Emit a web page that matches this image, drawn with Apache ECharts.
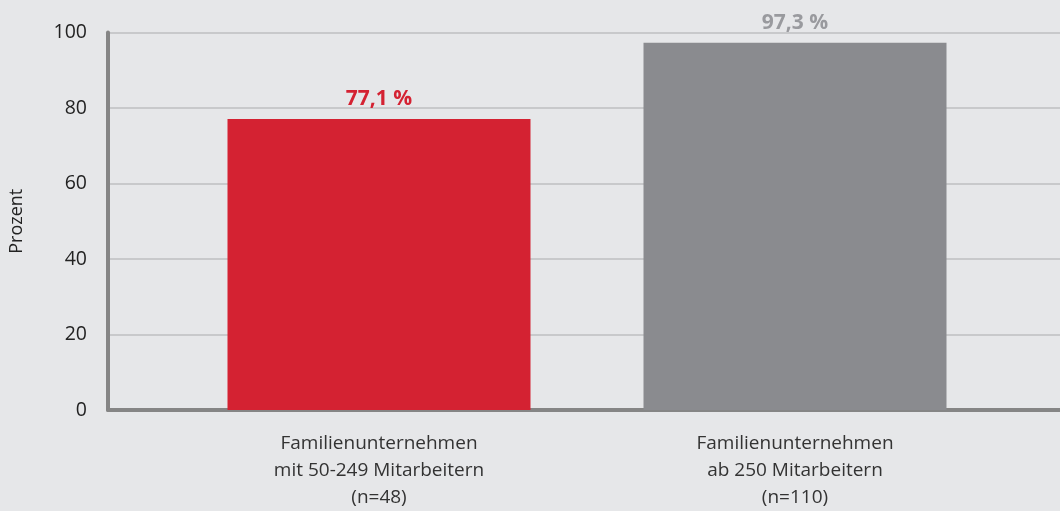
<!DOCTYPE html>
<html>
<head>
<meta charset="utf-8">
<script src="https://cdn.jsdelivr.net/npm/echarts@6/dist/echarts.min.js"></script>
<style>
html,body{margin:0;padding:0;background:#e6e7e9;}
#c{width:1060px;height:511px;}
</style>
</head>
<body>
<div id="c"></div>
<script>
const categories = ['Familienunternehmen\nmit 50-249 Mitarbeitern\n(n=48)', 'Familienunternehmen\nab 250 Mitarbeitern\n(n=110)'];
const values = [77.1, 97.3];
const barColors = ['#d42232', '#8a8b8f'];
const labelColors = ['#d42232', '#999a9e'];
const yTicks = [0, 20, 40, 60, 80, 100];

const FONT = '"Open Sans", "Noto Sans", sans-serif';
const chart = echarts.init(document.getElementById('c'), null, {renderer: 'canvas'});
chart.setOption({
  backgroundColor: '#e6e7e9',
  animation: false,
  grid: [
    {left: 106, right: 0, top: 32.5, bottom: 101},
    {left: 171, right: 57, top: 32.5, bottom: 101}
  ],
  xAxis: [
    {gridIndex: 0, type: 'value', min: 0, max: 1, axisLine: {show: true, onZero: false, lineStyle: {color: '#858585', width: 4}},
     axisTick: {show: false}, axisLabel: {show: false}, splitLine: {show: false}},
    {gridIndex: 1, type: 'category', data: categories, axisLine: {show: false}, axisTick: {show: false},
     axisLabel: {fontFamily: FONT, fontSize: 19, lineHeight: 27, color: '#333', margin: 20}}
  ],
  yAxis: [
    {gridIndex: 0, type: 'value', min: yTicks[0], max: yTicks[yTicks.length - 1], interval: 20,
     axisLine: {show: true, lineStyle: {color: '#858585', width: 4}}, axisTick: {show: false},
     axisLabel: {fontFamily: FONT, fontSize: 19.5, color: '#222', margin: 21},
     splitLine: {lineStyle: {color: '#c8c9cb', width: 2}},
     name: 'Prozent', nameLocation: 'middle', nameRotate: 90, nameGap: 82,
     nameTextStyle: {fontFamily: FONT, fontSize: 18, color: '#222'}},
    {gridIndex: 1, type: 'value', min: 0, max: 100, show: false}
  ],
  series: [{
    type: 'bar', xAxisIndex: 1, yAxisIndex: 1, barWidth: 303, z: 1,
    data: values.map((v, i) => ({value: v, itemStyle: {color: barColors[i]},
      label: {color: labelColors[i]}})),
    label: {show: true, position: 'top', distance: 9, fontFamily: FONT, fontSize: 21, fontWeight: 'bold',
      formatter: p => p.value.toFixed(1).replace('.', ',') + ' %'}
  }]
});
</script>
</body>
</html>
